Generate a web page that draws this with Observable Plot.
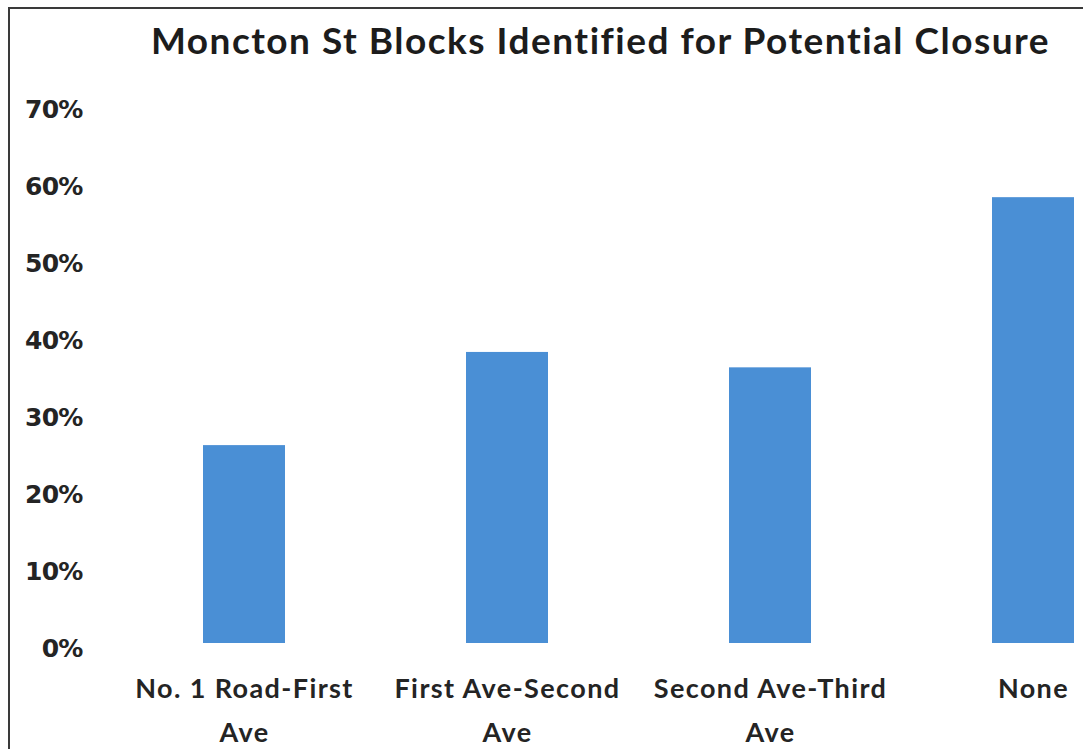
<!DOCTYPE html>
<html>
<head>
<meta charset="utf-8">
<script src="https://cdn.jsdelivr.net/npm/d3@7"></script>
<script src="https://cdn.jsdelivr.net/npm/@observablehq/plot@0.6"></script>
<style>
  html, body { margin: 0; padding: 0; background: #fff; }
  #wrap { position: relative; width: 1083px; height: 749px; overflow: hidden; background: #fff; }
  #title { position: absolute; left: 0; top: 18px; width: 1201px; text-align: center;
           font-family: Lato, "Open Sans", sans-serif; font-weight: 700; font-size: 37px; line-height: 44px;
           letter-spacing: 1.5px; color: #1c1c1c; white-space: nowrap; }
  #chart { position: absolute; left: 0; top: 0; }
  #chart g[aria-label="x-axis tick label"] { letter-spacing: 1.4px; }
  #chart g[aria-label="y-axis tick label"] { letter-spacing: -0.8px; }
  .bt { position: absolute; left: 8px; top: 7px; width: 1075px; height: 2px; background: #3a3a3a; }
  .bl { position: absolute; left: 8px; top: 7px; width: 2px; height: 742px; background: #3a3a3a; }
</style>
</head>
<body>
<div id="wrap">
  <div id="chart"></div>
  <div class="bt"></div>
  <div class="bl"></div>
  <div id="title">Moncton St Blocks Identified for Potential Closure</div>
</div>
<script>
const categories = ["No. 1 Road-First Ave", "First Ave-Second Ave", "Second Ave-Third Ave", "None"];
const categoryLabels = ["No. 1 Road-First\nAve", "First Ave-Second\nAve", "Second Ave-Third\nAve", "None"];
const values = [25.7, 37.8, 35.8, 57.9];
const yTicks = [0, 10, 20, 30, 40, 50, 60, 70];

const data = categories.map((c, i) => ({category: c, value: values[i]}));
const labelOf = new Map(categories.map((c, i) => [c, categoryLabels[i]]));

const chart = Plot.plot({
  width: 1083,
  height: 749,
  marginTop: 104,
  marginBottom: 106,
  marginLeft: 90,
  marginRight: 0,
  style: {background: "transparent", color: "#222"},
  x: {domain: categories, range: [21, 1255], padding: 0.69, axis: null},
  y: {domain: [0, 70], axis: null},
  marks: [
    Plot.barY(data, {x: "category", y: "value", fill: "#4a8fd5"}),
    Plot.axisY({
      ticks: yTicks,
      tickFormat: d => d + "%",
      tickSize: 0,
      tickPadding: 8,
      dy: 5,
      fontFamily: "DejaVu Sans",
      fontWeight: "bold",
      fontSize: 25,
      fill: "#242424",
      label: null
    }),
    Plot.axisX({
      tickFormat: d => labelOf.get(d),
      tickSize: 0,
      tickPadding: 23,
      lineHeight: 1.63,
      fontFamily: "Lato",
      fontWeight: "bold",
      fontSize: 27,
      fill: "#242424",
      label: null
    })
  ]
});
document.getElementById("chart").appendChild(chart);
</script>
</body>
</html>
